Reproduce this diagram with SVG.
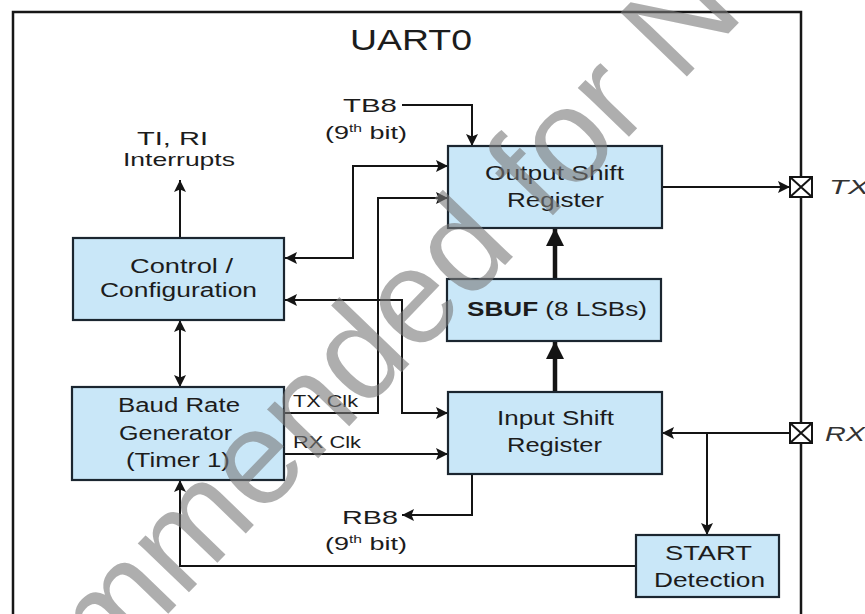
<svg xmlns="http://www.w3.org/2000/svg" width="865" height="614" viewBox="0 0 865 614">
<defs>
<style>
.bg{fill:#ffffff}
.frame{fill:none;stroke:#161616;stroke-width:2.5}
.box{fill:#c9e7f8;stroke:#1b2630;stroke-width:2.2}
.ln{fill:none;stroke:#141414;stroke-width:2}
.thick{fill:none;stroke:#141414;stroke-width:4.5}
.t{font-family:"Liberation Sans",Arial,sans-serif;font-size:20px;fill:#1c1c1c}
.s{font-size:19px}
.clk{font-size:17px}
.it{font-style:italic;fill:#333}
.pin{fill:#fff;stroke:#141414;stroke-width:2}
.wm{font-family:"Liberation Sans",Arial,sans-serif;font-size:134px;fill:#7a7a7a;opacity:0.6}
</style>
<marker id="ah" viewBox="0 0 10 10" refX="10" refY="5" markerWidth="12" markerHeight="12" markerUnits="userSpaceOnUse" orient="auto-start-reverse">
<path d="M0,0 L10,5 L0,10 L2,5 Z" fill="#141414"/>
</marker>
<marker id="ahb" viewBox="0 0 10 10" refX="10" refY="5" markerWidth="18" markerHeight="18" markerUnits="userSpaceOnUse" orient="auto-start-reverse">
<path d="M0,0 L10,5 L0,10 Z" fill="#141414"/>
</marker>
</defs>
<rect class="bg" x="0" y="0" width="865" height="614"/>
<path class="frame" d="M13,616 V12 H801 V616"/>
<text class="t" x="350" y="50" style="font-size:30px" textLength="122" lengthAdjust="spacingAndGlyphs">UART0</text>

<g id="connectors">
<path class="ln" d="M180,238 V180" marker-end="url(#ah)"/>
<path class="ln" d="M180,320 V387" marker-start="url(#ah)" marker-end="url(#ah)"/>
<path class="ln" d="M402,105 H472 V146" marker-end="url(#ah)"/>
<path class="ln" d="M448,166 H353 V258 H285" marker-start="url(#ah)" marker-end="url(#ah)"/>
<path class="ln" d="M284,413 H378 V198 H448" marker-end="url(#ah)"/>
<path class="ln" d="M285,300 H402 V413 H448" marker-start="url(#ah)" marker-end="url(#ah)"/>
<path class="ln" d="M284,454 H448" marker-end="url(#ah)"/>
<path class="ln" d="M662,187 H790" marker-end="url(#ah)"/>
<path class="ln" d="M790,433 H662" marker-end="url(#ah)"/>
<path class="ln" d="M707,433 V535" marker-end="url(#ah)"/>
<path class="ln" d="M636,566 H180 V480" marker-end="url(#ah)"/>
<path class="ln" d="M472,474 V515 H402" marker-end="url(#ah)"/>
<path class="thick" d="M555,279 V228" marker-end="url(#ahb)"/>
<path class="thick" d="M555,392 V341" marker-end="url(#ahb)"/>
</g>

<g id="ti-ri-label">
<text class="t s" x="137" y="145" textLength="71" lengthAdjust="spacingAndGlyphs">TI, RI</text>
<text class="t s" x="123" y="166" textLength="112" lengthAdjust="spacingAndGlyphs">Interrupts</text>
</g>
<g id="tb8-label">
<text class="t s" x="343" y="112" textLength="54" lengthAdjust="spacingAndGlyphs">TB8</text>
<text class="t s" x="325" y="139" textLength="82" lengthAdjust="spacingAndGlyphs">(9<tspan font-size="11" dy="-7">th</tspan><tspan dy="7"> bit)</tspan></text>
</g>
<g id="rb8-label">
<text class="t s" x="342" y="524" textLength="56" lengthAdjust="spacingAndGlyphs">RB8</text>
<text class="t s" x="325" y="550" textLength="82" lengthAdjust="spacingAndGlyphs">(9<tspan font-size="11" dy="-7">th</tspan><tspan dy="7"> bit)</tspan></text>
</g>
<g id="clk-labels">
<text class="t clk" x="293" y="407" textLength="65" lengthAdjust="spacingAndGlyphs">TX Clk</text>
<text class="t clk" x="293" y="448" textLength="68" lengthAdjust="spacingAndGlyphs">RX Clk</text>
</g>

<g id="control">
<rect class="box" x="73" y="238" width="211" height="82"/>
<text class="t" x="130" y="273" textLength="103" lengthAdjust="spacingAndGlyphs">Control /</text>
<text class="t" x="100" y="297" textLength="157" lengthAdjust="spacingAndGlyphs">Configuration</text>
</g>
<g id="baud">
<rect class="box" x="72" y="387" width="212" height="93"/>
<text class="t" x="118" y="412" textLength="122" lengthAdjust="spacingAndGlyphs">Baud Rate</text>
<text class="t" x="119" y="440" textLength="113" lengthAdjust="spacingAndGlyphs">Generator</text>
<text class="t" x="126" y="467" textLength="104" lengthAdjust="spacingAndGlyphs">(Timer 1)</text>
</g>
<g id="output-shift">
<rect class="box" x="448" y="146" width="214" height="82"/>
<text class="t" x="485" y="180" textLength="139" lengthAdjust="spacingAndGlyphs">Output Shift</text>
<text class="t" x="507" y="207" textLength="97" lengthAdjust="spacingAndGlyphs">Register</text>
</g>
<g id="sbuf">
<rect class="box" x="447" y="279" width="214" height="62"/>
<text class="t" x="467" y="316" textLength="180" lengthAdjust="spacingAndGlyphs"><tspan font-weight="bold">SBUF</tspan> (8 LSBs)</text>
</g>
<g id="input-shift">
<rect class="box" x="448" y="392" width="214" height="82"/>
<text class="t" x="497" y="425" textLength="117" lengthAdjust="spacingAndGlyphs">Input Shift</text>
<text class="t" x="507" y="452" textLength="95" lengthAdjust="spacingAndGlyphs">Register</text>
</g>
<g id="start">
<rect class="box" x="636" y="535" width="143" height="62"/>
<text class="t" x="665" y="560" textLength="87" lengthAdjust="spacingAndGlyphs">START</text>
<text class="t" x="654" y="587" textLength="111" lengthAdjust="spacingAndGlyphs">Detection</text>
</g>
<g id="tx-pin">
<rect class="pin" x="790" y="177" width="22" height="20"/>
<path class="ln" d="M790,177 L812,197 M812,177 L790,197"/>
<text class="t it" x="829" y="194" textLength="40" lengthAdjust="spacingAndGlyphs">TX</text>
</g>
<g id="rx-pin">
<rect class="pin" x="790" y="423" width="22" height="20"/>
<path class="ln" d="M790,423 L812,443 M812,423 L790,443"/>
<text class="t it" x="825" y="441" textLength="40" lengthAdjust="spacingAndGlyphs">RX</text>
</g>
<text class="wm" transform="translate(-283,1081) rotate(-46)" x="0" y="0">Not Recommended for New Designs</text>
</svg>
